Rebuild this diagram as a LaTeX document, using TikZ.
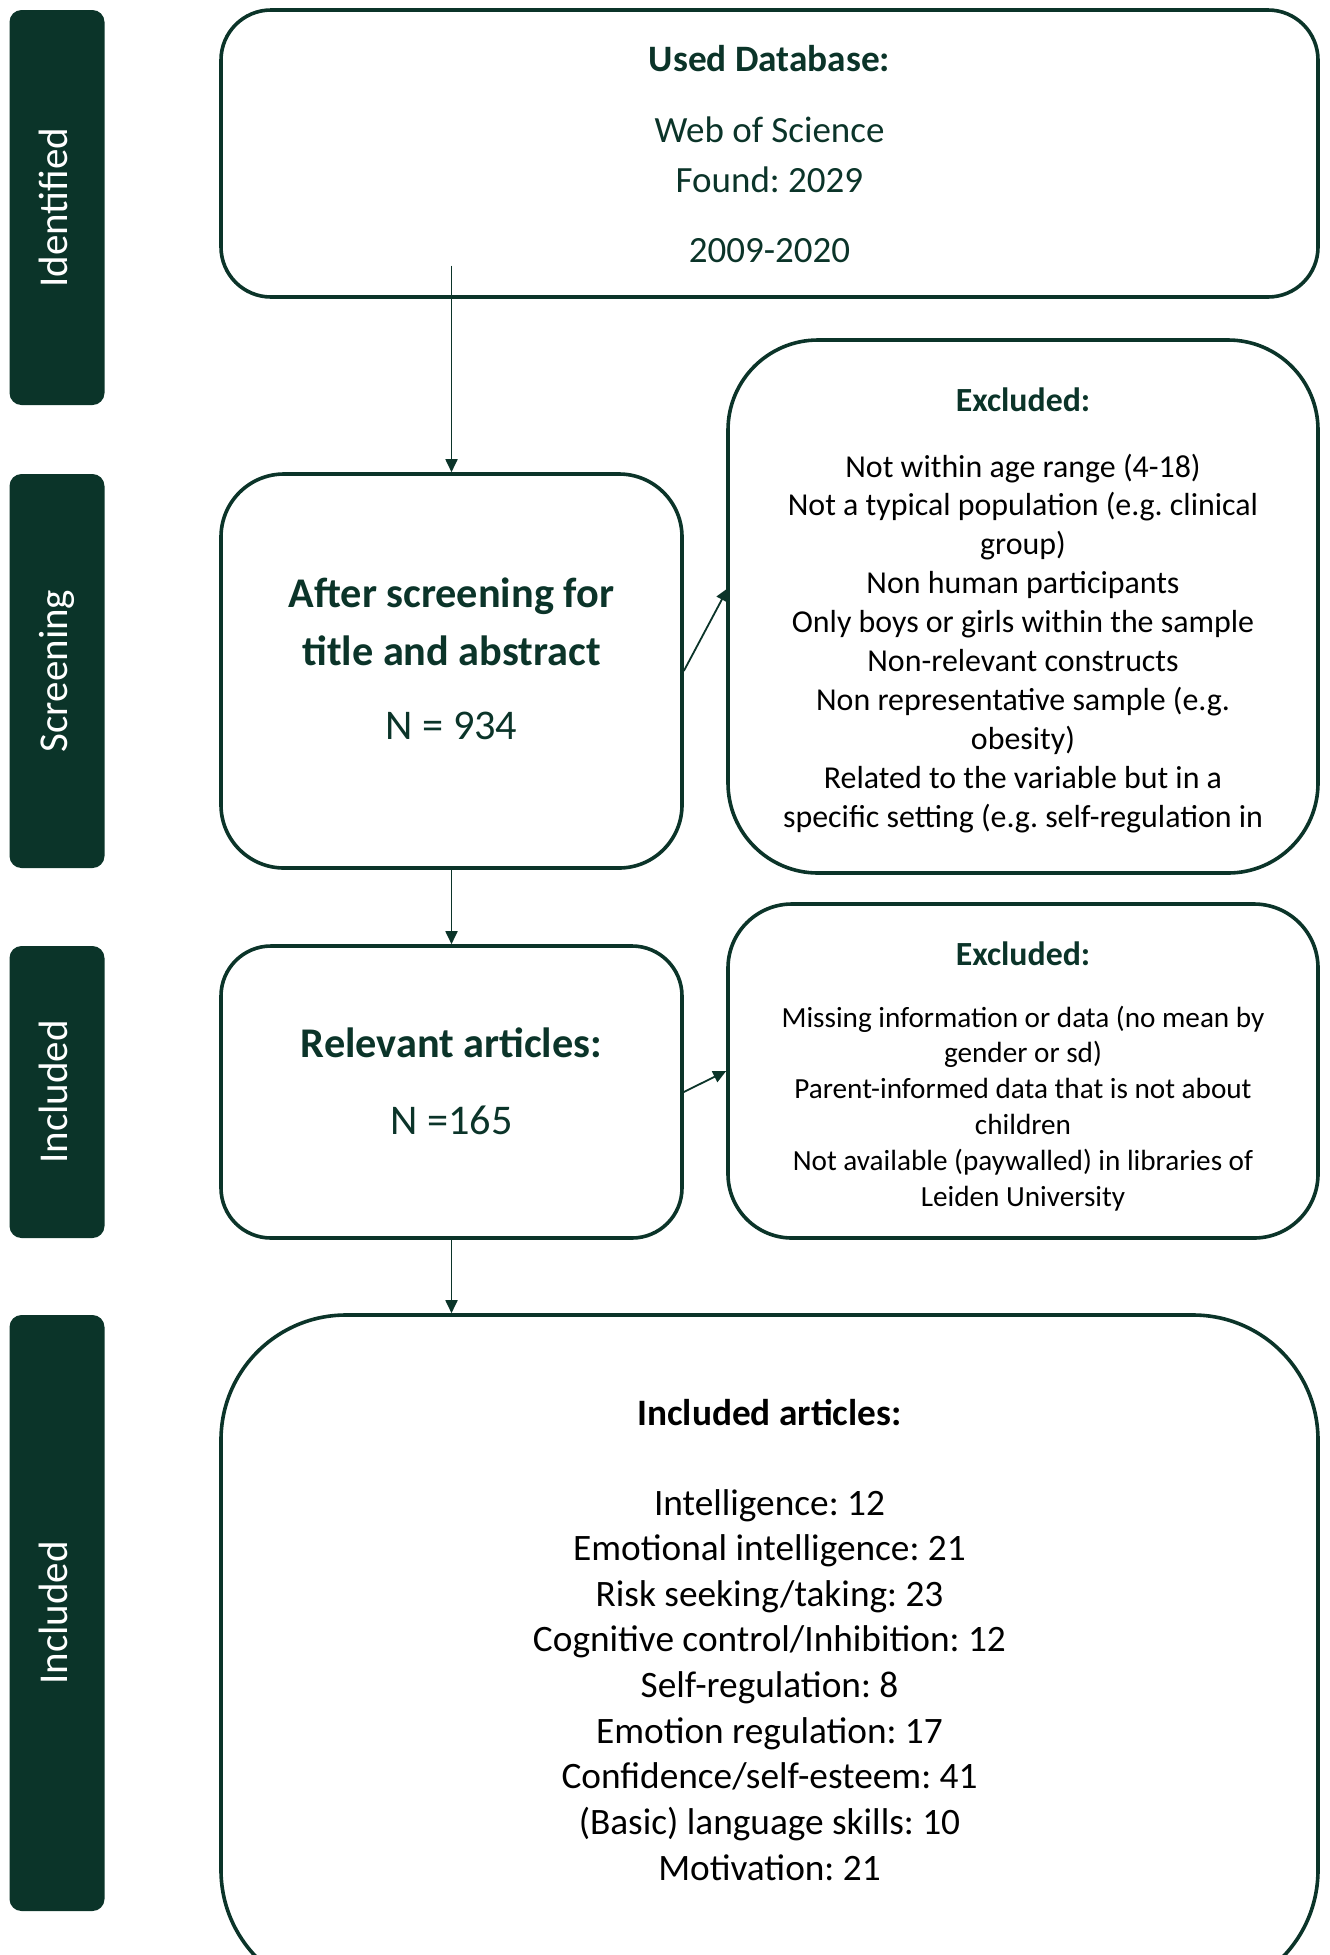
\documentclass[tikz,border=0pt]{standalone}
\usepackage{fontspec}
\setmainfont{Carlito}
\definecolor{prismagreen}{RGB}{11,52,41}
\usetikzlibrary{arrows.meta}
\frenchspacing

\begin{document}
\begin{tikzpicture}[x=1pt, y=-1pt,
    phasebar/.style={fill=prismagreen, rounded corners=12pt, minimum width=95pt, inner sep=0pt},
    phaselabel/.style={anchor=base, rotate=90, text=white, font=\fontsize{41}{49}\selectfont},
    flowbox/.style={draw=prismagreen, line width=3.6pt, inner sep=0pt},
    flowarrow/.style={draw=prismagreen, line width=1.8pt, -{Triangle[length=13pt, width=12pt]}},
    headtext/.style={anchor=base, text=prismagreen, font=\bfseries\fontsize{37.3}{45}\selectfont},
    bodytext/.style={anchor=base, text=prismagreen, font=\fontsize{37}{45}\selectfont},
    bigtext/.style={anchor=base, text=prismagreen, font=\bfseries\fontsize{42.3}{51}\selectfont}]
                \useasboundingbox (0,0) rectangle (1330,1955);

                \node[phasebar, minimum height=395pt] (barid) at (57,207.5) {};
                \node[phasebar, minimum height=394pt] (barscr) at (57,671) {};
                \node[phasebar, minimum height=292pt] (barrel) at (57,1092) {};
                \node[phasebar, minimum height=596pt] (barinc) at (57,1613) {};
                \node[phaselabel] (labid) at (67,207.5) {Identified};
                \node[phaselabel] (labscr) at (67,671) {Screening};
                \node[phaselabel] (labrel) at (67,1092) {Included};
                \node[phaselabel] (labinc) at (67,1613) {Included};

                \node[flowbox, rounded corners=50pt, minimum width=1097pt, minimum height=287pt] (db) at (769.5,153.5) {};
                \node[flowbox, rounded corners=63pt, minimum width=461pt, minimum height=394pt] (scr) at (451.5,671) {};
                \node[flowbox, rounded corners=90pt, minimum width=590pt, minimum height=533pt] (exA) at (1023,606.5) {};
                \node[flowbox, rounded corners=50pt, minimum width=461pt, minimum height=292pt] (rel) at (451.5,1092) {};
                \node[flowbox, rounded corners=64pt, minimum width=590pt, minimum height=334pt] (exB) at (1023,1071) {};
                \node[flowbox, rounded corners=125pt, minimum width=1097pt, minimum height=680pt] (inc) at (769.5,1655) {};

                \node[headtext] (dbhead) at (769.5,71.5) {Used Database:};
                \node[bodytext] (dbname) at (769.5,142.5) {Web of Science};
                \node[bodytext] (dbfound) at (769.5,192.5) {Found: 2029};
                \node[bodytext] (dbyears) at (769.5,262) {2009-2020};

                \node[bigtext] (scrA) at (451.5,607.5) {After screening for};
                \node[bigtext] (scrB) at (451.5,665.5) {title and abstract};
                \node[bigtext, font=\fontsize{42.3}{51}\selectfont] (scrN) at (451.5,739) {N = 934};

                \node[bigtext] (relhead) at (451.5,1057) {Relevant articles:};
                \node[bigtext, font=\fontsize{42.3}{51}\selectfont] (relN) at (451.5,1134) {N =165};

                \node[headtext, font=\bfseries\fontsize{33.8}{40}\selectfont] (exAhead) at (1023,411) {Excluded:};
                \foreach \t [count=\i] in {Not within age range {(4-18)}, Not a typical population {(e.g. clinical}, {group)},
                    Non human participants, Only boys or girls within the sample, Non-relevant constructs,
                    Non representative sample {(e.g.}, {obesity)}, Related to the variable but in a,
                    specific setting {(e.g. self-regulation in}}
                    \node[anchor=base, font=\fontsize{31.9}{39}\selectfont] (exAline\i) at (1023,{477+(\i-1)*38.9}) {\t};

                \node[headtext, font=\bfseries\fontsize{33.8}{40}\selectfont] (exBhead) at (1023,965) {Excluded:};
                \foreach \t [count=\i] in {Missing information or data {(no mean by}, {gender or sd)},
                    Parent-informed data that is not about, children,
                    Not available {(paywalled)} in libraries of, Leiden University}
                    \node[anchor=base, font=\fontsize{29.2}{35}\selectfont] (exBline\i) at (1023,{1027+(\i-1)*35.9}) {\t};

                \node[anchor=base, font=\bfseries\fontsize{37.3}{45}\selectfont] (inchead) at (769.5,1425.5) {Included articles:};
                \foreach \t [count=\i] in {Intelligence: 12, Emotional intelligence: 21, Risk seeking/taking: 23,
                    Cognitive control/Inhibition: 12, Self-regulation: 8, Emotion regulation: 17,
                    Confidence/self-esteem: 41, {(Basic) language skills: 10}, Motivation: 21}
                    \node[anchor=base, font=\fontsize{37.3}{45}\selectfont] (incline\i) at (769.5,{1515+(\i-1)*45.65}) {\t};

                \coordinate (dbout) at (451.5,265.5);
                \coordinate (exAin) at (728,588);
                \draw[flowarrow] (dbout) -- (scr.north);
                \draw[flowarrow] (scr.south) -- (rel.north);
                \draw[flowarrow] (rel.south) -- (rel.south |- inc.north);
                \draw[flowarrow] (scr.east) -- (exAin);
                \draw[flowarrow] (rel.east) -- (exB.west);
            \end{tikzpicture}
\end{document}
